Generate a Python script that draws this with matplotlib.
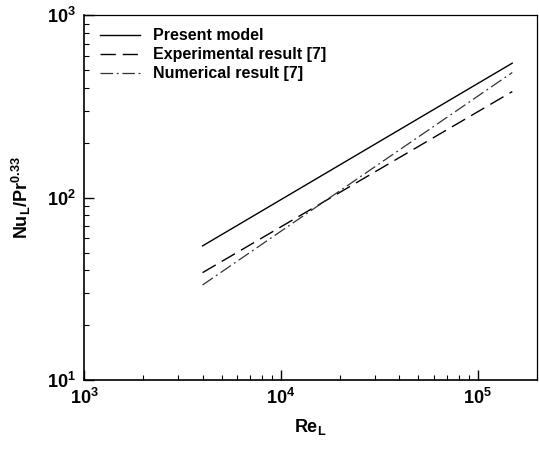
import matplotlib.pyplot as plt

plt.rcParams['font.family'] = ['Liberation Sans', 'DejaVu Sans']
plt.rcParams['font.weight'] = 'bold'
plt.rcParams['mathtext.fontset'] = 'custom'
plt.rcParams['mathtext.rm'] = 'Liberation Sans'
plt.rcParams['mathtext.it'] = 'Liberation Sans:italic'
plt.rcParams['mathtext.bf'] = 'Liberation Sans:bold'

# Reynolds number range and Nu_L/Pr^0.33 end values for each correlation
re_l = [4000, 1.5e5]
present_model = [54.4, 547]
experimental = [38.8, 382]
numerical = [33.2, 486]

labels = ['Present model', 'Experimental result [7]', 'Numerical result [7]']

fig = plt.figure(figsize=(5.39, 4.49), dpi=100)
ax = fig.add_axes([0.156, 0.1537, 0.84, 0.812])

ax.plot(re_l, present_model, color='black', linewidth=1.0, label=labels[0])
ax.plot(re_l, experimental, color='black', linewidth=1.0,
        dashes=(11, 5), label=labels[1])
ax.plot(re_l, numerical, color='#333333', linewidth=0.9,
        dashes=(10, 3, 1.5, 3), label=labels[2])

ax.set_xscale('log')
ax.set_yscale('log')
ax.set_xlim(1e3, 2e5)
ax.set_ylim(10, 1000)

ax.tick_params(which='both', direction='in', top=False, right=False,
               labelsize=13)
ax.tick_params(which='major', length=7, width=1, pad=6)
ax.tick_params(which='minor', length=3.5, width=0.8)

for side in ['left', 'bottom']:
    ax.spines[side].set_linewidth(1.2)
for side in ['top', 'right']:
    ax.spines[side].set_linewidth(0.9)

ax.set_xlabel(r'$\mathbf{Re_L}$', fontsize=13, labelpad=6)
ax.set_ylabel(r'$\mathbf{Nu_L/Pr^{0.33}}$', fontsize=13, labelpad=10)

ax.legend(loc='upper left', frameon=False, fontsize=11.5, handlelength=2.5,
          handletextpad=0.8, labelspacing=0.25,
          bbox_to_anchor=(0.01, 0.995), borderaxespad=0.3)

fig.savefig('out.png', dpi=100)
